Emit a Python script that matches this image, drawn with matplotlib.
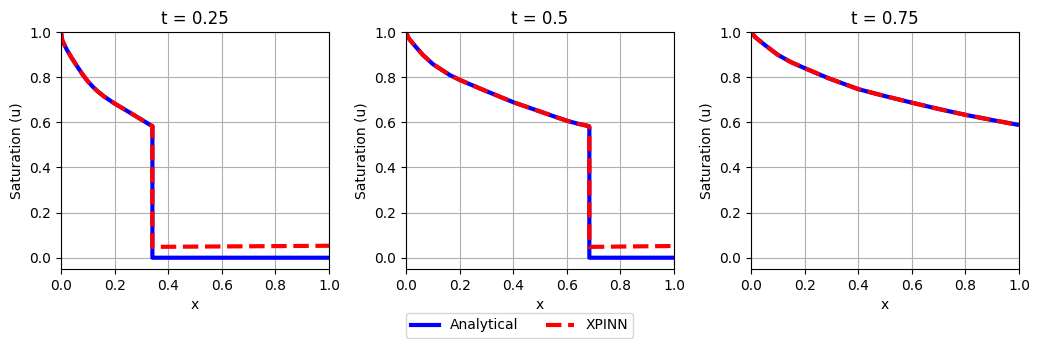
import matplotlib
matplotlib.use("Agg")
import matplotlib.pyplot as plt

times = [0.25, 0.5, 0.75]

# t = 0.25
x_t1 = [0.0, 0.005, 0.022, 0.04, 0.062, 0.08, 0.099, 0.12, 0.137, 0.16, 0.2, 0.24, 0.3, 0.329, 0.341, 0.341, 1.0]
u_exact_t1 = [1.0, 0.962, 0.921, 0.885, 0.845, 0.813, 0.783, 0.756, 0.737, 0.715, 0.683, 0.655, 0.612, 0.591, 0.583, 0.0, 0.0]
u_xpinn_t1 = [1.0, 0.962, 0.921, 0.885, 0.845, 0.813, 0.783, 0.756, 0.737, 0.715, 0.683, 0.655, 0.612, 0.591, 0.583, 0.048, 0.053]

# t = 0.5
x_t2 = [0.0, 0.01, 0.031, 0.0625, 0.1, 0.1625, 0.2, 0.2875, 0.4, 0.5, 0.55, 0.6, 0.64, 0.682, 0.684, 0.684, 1.0]
u_exact_t2 = [1.0, 0.972, 0.942, 0.899, 0.858, 0.81, 0.788, 0.744, 0.689, 0.648, 0.627, 0.607, 0.594, 0.583, 0.58, 0.0, 0.0]
u_xpinn_t2 = [1.0, 0.972, 0.942, 0.899, 0.858, 0.81, 0.788, 0.744, 0.689, 0.648, 0.627, 0.607, 0.594, 0.583, 0.58, 0.048, 0.052]

# t = 0.75
x_t3 = [0.0, 0.015, 0.05, 0.1, 0.15, 0.2, 0.2875, 0.4, 0.5, 0.6, 0.7, 0.8, 0.9, 1.0]
u_exact_t3 = [1.0, 0.978, 0.944, 0.899, 0.866, 0.84, 0.796, 0.747, 0.716, 0.687, 0.659, 0.633, 0.61, 0.588]
u_xpinn_t3 = [1.0, 0.978, 0.944, 0.899, 0.866, 0.84, 0.796, 0.747, 0.716, 0.687, 0.659, 0.633, 0.61, 0.588]

xs = [x_t1, x_t2, x_t3]
exact = [u_exact_t1, u_exact_t2, u_exact_t3]
xpinn = [u_xpinn_t1, u_xpinn_t2, u_xpinn_t3]

fig, axes = plt.subplots(1, 3, figsize=(10.39, 3.48), dpi=100)
fig.subplots_adjust(left=0.0587, right=0.9808, bottom=0.227, top=0.908, wspace=0.287)

for ax, t, x, ue, up in zip(axes, times, xs, exact, xpinn):
    ax.plot(x, ue, color="blue", lw=3, label="Analytical")
    ax.plot(x, up, color="red", lw=3, ls="--", label="XPINN")
    ax.set_title(f"t = {t}")
    ax.set_xlabel("x")
    ax.set_ylabel("Saturation (u)")
    ax.set_xlim(0, 1)
    ax.set_ylim(-0.05, 1.0)
    ax.grid(True)

handles, labels = axes[0].get_legend_handles_labels()
fig.legend(handles, labels, loc="lower center", bbox_to_anchor=(0.5, 0.009), ncol=2)

fig.savefig("out.png", dpi=100)
